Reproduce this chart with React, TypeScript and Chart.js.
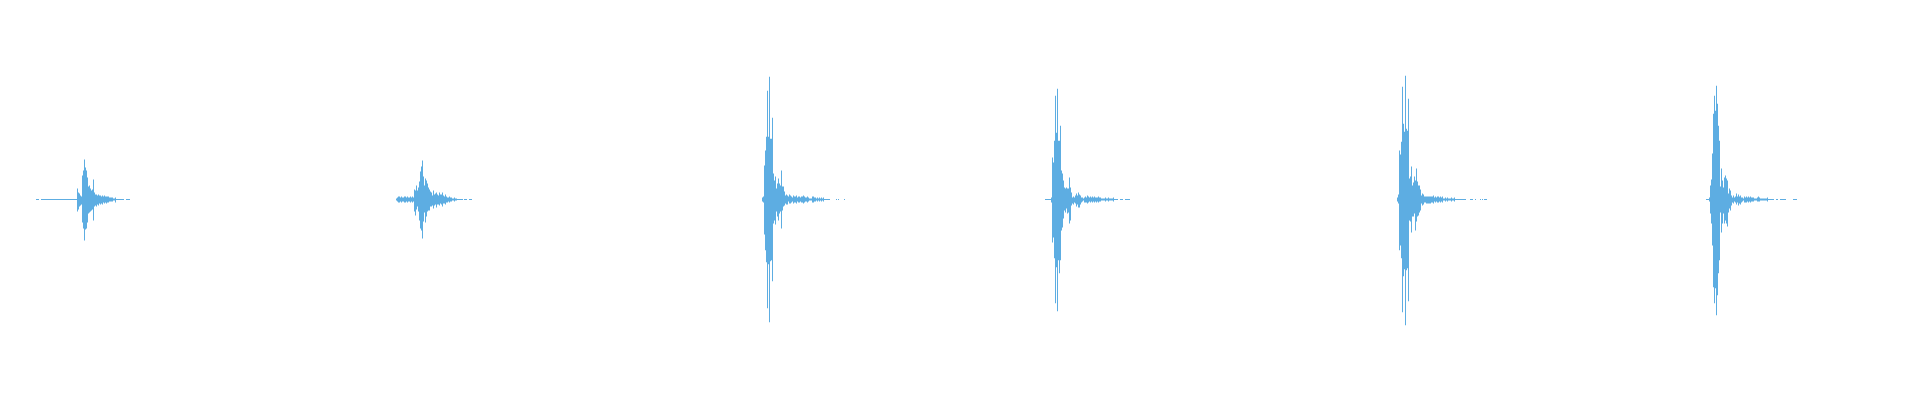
import { useEffect, useRef } from "react";
import { Chart, registerables } from "chart.js";

Chart.register(...registerables);

// waveform summary: one min/max peak pair per pixel frame
const FRAME_COUNT = 1920;
const FULL_SCALE = 200;
const WAVE_COLOR = "#5dade2";

// first frame of each recorded hit
const onsets = [77, 396, 762, 1051, 1397, 1709];

const ev1Max = [11, 7, 6, 4, 3, 24, 29, 40, 32, 29, 22, 13, 14, 11, 9, 10, 20, 7, 5, 5, 4, 5, 4, 4, 3, 4, 3, 4, 3, 3, 3, 3, 2, 2, 2, 2, 1, 1, 2];
const ev1Min = [-12, -10, -7, -6, -5, -23, -29, -41, -30, -29, -23, -14, -13, -12, -11, -10, -21, -7, -6, -7, -5, -6, -4, -5, -4, -5, -3, -4, -3, -4, -3, -3, -2, -2, -2, -2, -1, -1, -3];

const ev2Max = [1, 2, 3, 3, 2, 3, 2, 2, 3, 3, 2, 3, 2, 2, 3, 2, 3, 2, 10, 9, 14, 9, 12, 18, 28, 33, 39, 23, 14, 21, 19, 16, 12, 10, 8, 7, 4, 9, 5, 6, 7, 5, 4, 7, 5, 5, 7, 4, 3, 5, 3, 2, 2, 3, 2, 2, 1, 1, 2, 1, 1];
const ev2Min = [-1, -2, -3, -3, -2, -3, -2, -2, -3, -3, -2, -3, -2, -2, -3, -2, -3, -2, -12, -16, -10, -7, -12, -21, -29, -31, -39, -22, -13, -23, -17, -12, -11, -11, -7, -7, -6, -9, -6, -5, -8, -5, -5, -6, -4, -5, -7, -4, -4, -5, -3, -3, -2, -3, -2, -2, -1, -1, -2, -1, -1];

const ev3Max = [2, 3, 34, 49, 63, 109, 63, 123, 61, 61, 82, 26, 19, 23, 11, 16, 21, 16, 14, 29, 13, 13, 8, 4, 5, 4, 3, 5, 4, 3, 2, 4, 3, 3, 4, 2, 3, 3, 2, 3, 3, 4, 3, 2, 2, 3, 2, 1, 1, 1, 3, 3, 2, 2, 1, 2, 1, 2, 1, 2, 1, 2];
const ev3Min = [-2, -3, -35, -51, -63, -109, -65, -123, -62, -61, -82, -24, -21, -25, -12, -17, -21, -14, -12, -29, -11, -7, -6, -4, -5, -5, -2, -4, -4, -3, -2, -4, -3, -3, -4, -2, -3, -3, -2, -3, -3, -4, -3, -2, -2, -3, -2, -1, -1, -1, -3, -3, -2, -2, -1, -2, -1, -2, -1, -2, -1, -2];

const ev4Max = [2, 42, 37, 59, 104, 67, 111, 59, 59, 74, 29, 26, 19, 12, 11, 12, 11, 11, 22, 12, 7, 2, 3, 2, 4, 6, 4, 7, 5, 4, 2, 2, 1, 2, 3, 2, 4, 3, 2, 3, 2, 3, 2, 3, 2, 2, 2, 3, 2, 2, 1, 1, 1, 1, 2, 1, 1, 2, 1, 1, 1, 1, 2];
const ev4Min = [-3, -43, -38, -59, -104, -68, -112, -61, -74, -61, -31, -28, -19, -11, -13, -9, -14, -13, -24, -21, -6, -4, -5, -3, -4, -7, -5, -8, -8, -5, -3, -2, -1, -3, -3, -3, -4, -3, -2, -3, -2, -3, -2, -3, -2, -3, -2, -3, -2, -2, -1, -1, -1, -1, -2, -1, -1, -2, -1, -1, -1, -1, -2];

const ev5Max = [2, 5, 49, 45, 58, 113, 76, 68, 124, 71, 69, 101, 21, 23, 33, 14, 17, 23, 19, 31, 18, 14, 14, 10, 4, 6, 5, 3, 3, 3, 3, 3, 3, 3, 3, 3, 4, 2, 3, 2, 3, 3, 2, 3, 2, 3, 1, 1, 2, 1, 2, 1, 1, 1, 2, 1, 1, 2];
const ev5Min = [-2, -4, -51, -46, -59, -113, -77, -70, -126, -71, -69, -102, -21, -22, -33, -17, -17, -14, -31, -22, -17, -16, -13, -11, -4, -6, -5, -3, -3, -4, -4, -4, -4, -4, -3, -3, -4, -2, -3, -2, -3, -3, -2, -3, -2, -3, -1, -1, -2, -1, -2, -1, -1, -1, -2, -1, -1, -2];

const ev6Max = [2, 14, 20, 46, 86, 104, 89, 114, 96, 74, 59, 13, 31, 19, 12, 22, 24, 21, 19, 6, 11, 9, 4, 2, 4, 2, 3, 6, 3, 5, 3, 4, 2, 2, 1, 3, 2, 3, 2, 3, 2, 3, 2, 2, 2, 1, 1, 1, 2, 3, 2, 1, 1, 1, 1, 1, 1, 1, 2];
const ev6Min = [-2, -14, -24, -46, -88, -104, -89, -116, -96, -74, -61, -13, -33, -24, -14, -24, -21, -24, -27, -13, -9, -11, -6, -3, -4, -2, -3, -5, -3, -6, -4, -5, -3, -2, -1, -3, -3, -3, -2, -3, -2, -3, -2, -2, -2, -1, -1, -1, -2, -2, -2, -1, -1, -1, -1, -1, -1, -1, -2];

// near-silent stretches around each hit, [from, to] in frames
const quietSpans = [
  [36, 39], [41, 77], [116, 124], [126, 130],
  [457, 463], [464, 467], [469, 472],
  [824, 830], [836, 837], [838, 839], [844, 845],
  [1045, 1051], [1114, 1118], [1120, 1123], [1125, 1130],
  [1455, 1466], [1470, 1473], [1475, 1476], [1480, 1481], [1482, 1483], [1484, 1487],
  [1706, 1709], [1768, 1774], [1776, 1778], [1780, 1786], [1793, 1797],
];

const eventPeaks = [
  [ev1Max, ev1Min],
  [ev2Max, ev2Min],
  [ev3Max, ev3Min],
  [ev4Max, ev4Min],
  [ev5Max, ev5Min],
  [ev6Max, ev6Min],
];

export default function App() {
  const canvasRef = useRef<HTMLCanvasElement | null>(null);

  useEffect(() => {
    document.body.style.margin = "0";
    const canvas = canvasRef.current;
    if (!canvas) return;

    const peakBars = onsets.flatMap((onset, e) => {
      const [maxs, mins] = eventPeaks[e];
      return maxs.map((hi, i) => ({ x: onset + i + 0.5, y: [mins[i], hi] }));
    });

    const quietLine = quietSpans.flatMap(([from, to]) => [
      { x: from, y: 0 },
      { x: to, y: 0 },
      { x: to, y: null },
    ]);

    const chart = new Chart(canvas, {
      type: "bar",
      data: {
        datasets: [
          {
            type: "bar",
            data: peakBars as any,
            backgroundColor: WAVE_COLOR,
            borderWidth: 0,
            barThickness: 1,
            inflateAmount: 0,
          },
          {
            type: "line",
            data: quietLine as any,
            borderColor: WAVE_COLOR,
            borderWidth: 1,
            pointRadius: 0,
            tension: 0,
            spanGaps: false,
          },
        ],
      },
      options: {
        animation: false,
        responsive: true,
        maintainAspectRatio: false,
        layout: { padding: { bottom: 1 } },
        plugins: {
          legend: { display: false },
          tooltip: { enabled: false },
        },
        scales: {
          x: {
            type: "linear",
            min: 0,
            max: FRAME_COUNT,
            offset: false,
            display: false,
          },
          y: {
            min: -FULL_SCALE,
            max: FULL_SCALE,
            display: false,
          },
        },
      },
    });

    return () => {
      chart.destroy();
    };
  }, []);

  return (
    <div style={{ position: "relative", width: 1920, height: 400 }}>
      <canvas ref={canvasRef} />
    </div>
  );
}
